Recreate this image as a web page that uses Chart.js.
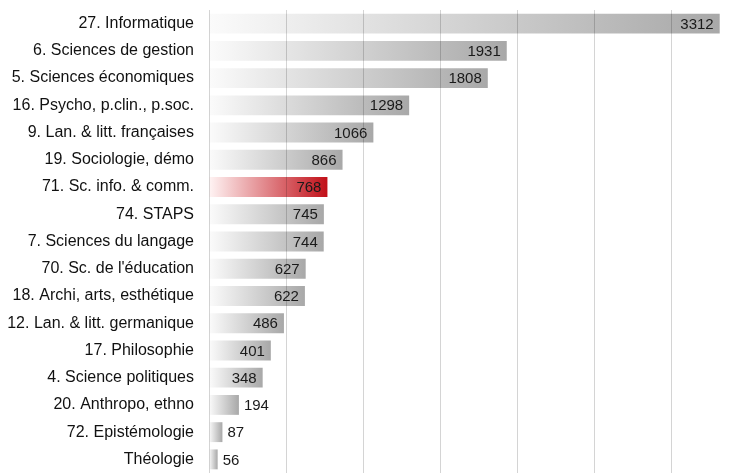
<!DOCTYPE html>
<html>
<head>
<meta charset="utf-8">
<script src="https://cdn.jsdelivr.net/npm/chart.js@4"></script>
<style>
  html, body { margin: 0; padding: 0; background: #ffffff; }
  #wrap { width: 745px; height: 473px; position: relative; }
</style>
</head>
<body>
<div id="wrap"><canvas id="c" width="745" height="473"></canvas></div>
<script>
const categories = [
  "27. Informatique",
  "6. Sciences de gestion",
  "5. Sciences économiques",
  "16. Psycho, p.clin., p.soc.",
  "9. Lan. & litt. françaises",
  "19. Sociologie, démo",
  "71. Sc. info. & comm.",
  "74. STAPS",
  "7. Sciences du langage",
  "70. Sc. de l'éducation",
  "18. Archi, arts, esthétique",
  "12. Lan. & litt. germanique",
  "17. Philosophie",
  "4. Science politiques",
  "20. Anthropo, ethno",
  "72. Epistémologie",
  "Théologie"
];
const values = [3312, 1931, 1808, 1298, 1066, 866, 768, 745, 744, 627, 622, 486, 401, 348, 194, 87, 56];
const highlighted = ["71. Sc. info. & comm."];
const xTicks = [0, 500, 1000, 1500, 2000, 2500, 3000];

const FONT = "'Liberation Sans', Arial, Helvetica, sans-serif";

function barFill(ctx) {
  const chart = ctx.chart;
  const area = chart.chartArea;
  const isHi = highlighted.includes(categories[ctx.dataIndex]);
  const endCol = isHi ? '#c10f18' : '#a8a8a8';
  const startCol = isHi ? '#fff4f4' : '#fbfbfb';
  if (!area || !chart.scales.x) return endCol;
  const x0 = chart.scales.x.getPixelForValue(0);
  const x1 = chart.scales.x.getPixelForValue(values[ctx.dataIndex]);
  if (!(x1 > x0)) return endCol;
  const g = chart.ctx.createLinearGradient(x0, 0, x1, 0);
  g.addColorStop(0, startCol);
  g.addColorStop(1, endCol);
  return g;
}

const valueLabels = {
  id: 'valueLabels',
  afterDraw(chart) {
    const ctx = chart.ctx;
    const meta = chart.getDatasetMeta(0);
    ctx.save();
    ctx.font = "15px " + FONT;
    ctx.fillStyle = '#1a1a1a';
    ctx.textBaseline = 'middle';
    meta.data.forEach((bar, i) => {
      const txt = String(values[i]);
      const w = ctx.measureText(txt).width;
      const bw = bar.x - bar.base;
      if (bw > w + 14) {
        ctx.textAlign = 'right';
        ctx.fillText(txt, bar.x - 6, bar.y + 1);
      } else {
        ctx.textAlign = 'left';
        ctx.fillText(txt, bar.x + 5, bar.y + 1);
      }
    });
    ctx.restore();
  }
};

new Chart(document.getElementById('c'), {
  type: 'bar',
  data: {
    labels: categories,
    datasets: [{
      data: values,
      backgroundColor: barFill,
      borderWidth: 0,
      barPercentage: 0.73,
      categoryPercentage: 1.0
    }]
  },
  options: {
    indexAxis: 'y',
    responsive: false,
    animation: false,
    maintainAspectRatio: false,
    layout: { padding: { top: 10, right: 0, bottom: 0, left: 0 } },
    plugins: {
      legend: { display: false },
      tooltip: { enabled: false }
    },
    scales: {
      x: {
        min: 0,
        max: 3476,
        afterBuildTicks: (s) => { s.ticks = xTicks.map(v => ({ value: v })); },
        ticks: { display: false },
        border: { display: false },
        grid: {
          z: 1,
          drawTicks: false,
          lineWidth: 1,
          color: 'rgba(0,0,0,0.17)'
        }
      },
      y: {
        afterFit: (s) => { s.width = 209; s.paddingTop = 0; s.paddingBottom = 0; },
        border: { display: false },
        grid: { display: true, drawOnChartArea: false, drawTicks: true, tickLength: 15, color: 'rgba(0,0,0,0)' },
        ticks: {
          padding: 0,
          color: '#111111',
          font: { family: FONT, size: 16 }
        }
      }
    }
  },
  plugins: [valueLabels]
});
</script>
</body>
</html>
